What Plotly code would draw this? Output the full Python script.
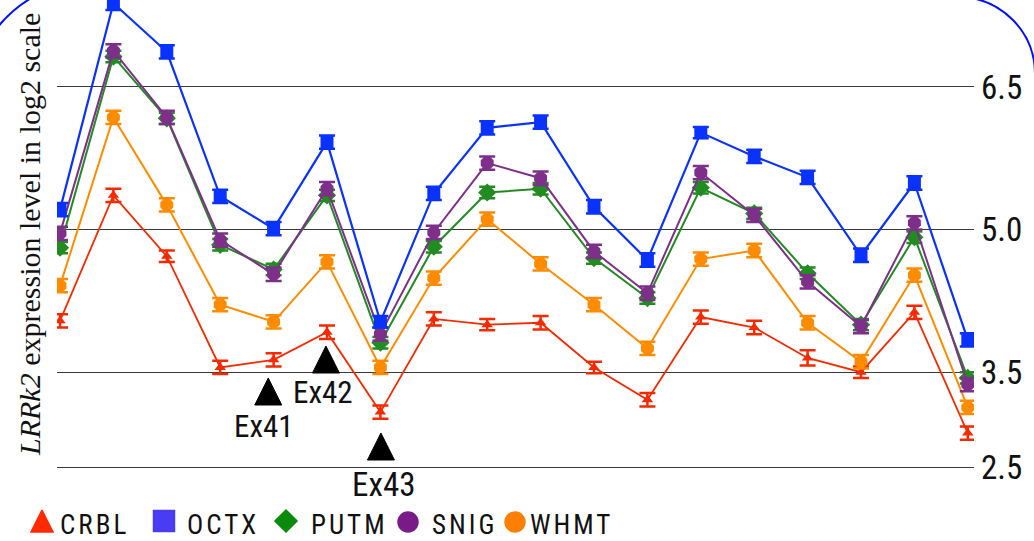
import plotly.graph_objects as go

# ---- data: LRRK2 probe-level expression (log2) by brain region ----
probe_idx = [0, 1, 2, 3, 4, 5, 6, 7, 8, 9, 10, 11, 12, 13, 14, 15, 16, 17]

crbl = [4.04, 5.36, 4.72, 3.55, 3.63, 3.92, 3.08, 4.06, 4.00, 4.02, 3.55, 3.21, 4.08, 3.97, 3.65, 3.50, 4.13, 2.86]
octx = [5.21, 7.38, 6.87, 5.35, 5.01, 5.92, 4.03, 5.38, 6.07, 6.13, 5.24, 4.68, 6.02, 5.77, 5.55, 4.73, 5.49, 3.84]
putm = [4.81, 6.82, 6.17, 4.84, 4.58, 5.36, 3.81, 4.82, 5.39, 5.43, 4.70, 4.28, 5.44, 5.17, 4.54, 4.00, 4.92, 3.44]
snig = [4.96, 6.88, 6.18, 4.89, 4.53, 5.43, 3.90, 4.97, 5.70, 5.54, 4.77, 4.33, 5.60, 5.15, 4.45, 3.98, 5.07, 3.37]
whmt = [4.41, 6.18, 5.26, 4.21, 4.03, 4.66, 3.55, 4.49, 5.11, 4.64, 4.21, 3.75, 4.69, 4.78, 4.02, 3.61, 4.52, 3.13]

err_crbl = [0.07, 0.07, 0.06, 0.07, 0.07, 0.07, 0.07, 0.07, 0.06, 0.07, 0.06, 0.07, 0.07, 0.07, 0.08, 0.06, 0.07, 0.07]
err_octx = [0.07, 0.07, 0.07, 0.07, 0.07, 0.07, 0.06, 0.07, 0.07, 0.07, 0.07, 0.07, 0.06, 0.07, 0.07, 0.07, 0.07, 0.07]
err_putm = [0.06, 0.06, 0.06, 0.06, 0.06, 0.06, 0.06, 0.06, 0.06, 0.06, 0.06, 0.06, 0.06, 0.06, 0.06, 0.06, 0.06, 0.06]
err_snig = [0.07, 0.07, 0.07, 0.07, 0.07, 0.07, 0.07, 0.07, 0.07, 0.07, 0.07, 0.07, 0.07, 0.07, 0.07, 0.07, 0.07, 0.07]
err_whmt = [0.07, 0.07, 0.07, 0.07, 0.07, 0.07, 0.07, 0.07, 0.07, 0.07, 0.07, 0.07, 0.07, 0.07, 0.07, 0.07, 0.07, 0.07]

y_ticks = [2.5, 3.5, 5.0, 6.5]
y_tick_text = ["2.5", "3.5", "5.0", "6.5"]

exon_names = ["Ex41", "Ex42", "Ex43"]
exon_pos = [3.9, 4.98, 6.01]

legend_names = ["CRBL", "OCTX", "PUTM", "SNIG", "WHMT"]

# ---- layout constants (pixels) ----
W, H = 1034, 541
PLOT_L, PLOT_R = 57, 974
X0_PX, DX_PX = 60.0, 53.4          # pixel of first probe, spacing between probes
Y_REF_V, Y_REF_PX, PX_PER_UNIT = 4.375, 289.0, 95.07


def v_at(px_y):
    return Y_REF_V + (Y_REF_PX - px_y) / PX_PER_UNIT


def idx_at(px_x):
    return (px_x - X0_PX) / DX_PX


NARROW = "Liberation Sans Narrow, Arial Narrow, Roboto Condensed, Liberation Sans, sans-serif"
SERIF = "Liberation Serif, Times New Roman, serif"

style = {
    "CRBL": dict(line="#f52a00", marker="#f52a00", symbol="triangle-up", size=10, lw=1.8),
    "OCTX": dict(line="#0a32ff", marker="#0a32ff", symbol="square", size=13, lw=2.2),
    "PUTM": dict(line="#228b22", marker="#228b22", symbol="diamond", size=14, lw=2.0),
    "SNIG": dict(line="#7d2f8a", marker="#7d2f8a", symbol="octagon", size=14, lw=2.0),
    "WHMT": dict(line="#ff8c00", marker="#ff8c00", symbol="octagon", size=14, lw=2.0),
}
legend_style = {
    "CRBL": dict(color="#ff2a00", symbol="arrow-up", size=22, cx=42, cy=510, tx=58),
    "OCTX": dict(color="#4a3cf0", symbol="square", size=21, cx=164, cy=521, tx=185),
    "PUTM": dict(color="#0a8a0a", symbol="diamond", size=17, cx=286, cy=521, tx=309),
    "SNIG": dict(color="#7a1a88", symbol="circle", size=20, cx=408, cy=522, tx=430),
    "WHMT": dict(color="#ff7f00", symbol="circle", size=20, cx=515, cy=522, tx=528),
}

series = {"CRBL": (crbl, err_crbl), "OCTX": (octx, err_octx), "PUTM": (putm, err_putm),
          "SNIG": (snig, err_snig), "WHMT": (whmt, err_whmt)}
draw_order = ["CRBL", "WHMT", "PUTM", "SNIG", "OCTX"]

fig = go.Figure()

for name in draw_order:
    vals, errs = series[name]
    st = style[name]
    fig.add_trace(go.Scatter(
        x=probe_idx, y=vals, mode="lines+markers", name=name, showlegend=False,
        line=dict(color=st["line"], width=st["lw"]),
        marker=dict(color=st["marker"], symbol=st["symbol"], size=st["size"]),
        error_y=dict(type="data", array=errs, visible=True, color=st["marker"],
                     thickness=2.5, width=8),
        xaxis="x", yaxis="y",
    ))

# exon markers (black triangles pointing at the probes)
exon_apex_px = [378, 346, 433]
exon_label_px = [(264, 426), (323, 392), (383, 484)]
fig.add_trace(go.Scatter(
    x=exon_pos, y=[v_at(p) for p in exon_apex_px], mode="markers", showlegend=False,
    marker=dict(symbol="arrow-up", size=27, color="black", line=dict(width=1, color="black")),
    xaxis="x", yaxis="y", hoverinfo="skip",
))
for name, (lx, ly) in zip(exon_names, exon_label_px):
    fig.add_annotation(
        x=idx_at(lx), y=v_at(ly), xref="x", yref="y", text=name, showarrow=False,
        font=dict(family=NARROW, size=31 if name != "Ex43" else 33, color="#111"),
        xanchor="center", yanchor="middle",
    )

# legend row drawn on an overlay axis measured in pixels
for name in legend_names:
    ls = legend_style[name]
    fig.add_trace(go.Scatter(
        x=[ls["cx"]], y=[ls["cy"]], mode="markers", showlegend=False, hoverinfo="skip",
        marker=dict(symbol=ls["symbol"], size=ls["size"], color=ls["color"],
                    line=dict(width=1.5, color=ls["color"])),
        xaxis="x2", yaxis="y2", cliponaxis=False,
    ))
    fig.add_annotation(
        x=ls["tx"], y=525, xref="x2", yref="y2", showarrow=False,
        text=f'<span style="letter-spacing:3px">{name}</span>',
        font=dict(family=NARROW, size=27, color="#111"),
        xanchor="left", yanchor="middle",
    )

# y-axis title
fig.add_annotation(
    x=30 / W, y=1 - 235 / H, xref="paper", yref="paper", showarrow=False,
    text="<i>LRRk2</i> expression level in log2 scale", textangle=-90,
    font=dict(family=SERIF, size=30, color="#111"), xanchor="center", yanchor="middle",
)

# blue outline fragments at the top corners
def px_path(cmds):
    out = []
    for c in cmds:
        if isinstance(c, str):
            out.append(c)
        else:
            out.append(f"{c[0] / W:.5f},{1 - c[1] / H:.5f}")
    return " ".join(out)

fig.add_shape(type="path", xref="paper", yref="paper",
              path=px_path(["M", (-3, 28), "Q", (12, 9), (33, -3)]),
              line=dict(color="#0010ff", width=2))
fig.add_shape(type="path", xref="paper", yref="paper",
              path=px_path(["M", (940, -3), "L", (958, -3), "C", (1000.5, -3), (1035, 31.5), (1035, 74)]),
              line=dict(color="#0010ff", width=2))

fig.update_layout(
    width=W, height=H, margin=dict(l=0, r=0, t=0, b=0),
    paper_bgcolor="white", plot_bgcolor="rgba(0,0,0,0)",
    xaxis=dict(domain=[PLOT_L / W, PLOT_R / W], range=[idx_at(PLOT_L), idx_at(PLOT_R)],
               showgrid=False, zeroline=False, showline=False, showticklabels=False, ticks=""),
    yaxis=dict(domain=[0, 1], range=[v_at(H), v_at(0)], side="right",
               tickvals=y_ticks, ticktext=y_tick_text, showgrid=True, gridcolor="#3a3a3a",
               gridwidth=1.4, zeroline=False, showline=False, ticks="", ticklabelstandoff=6,
               tickfont=dict(family=NARROW, size=33, color="#111")),
    xaxis2=dict(domain=[0, 1], range=[0, W], anchor="y2", visible=False),
    yaxis2=dict(domain=[0, 1], range=[H, 0], anchor="x2", visible=False),
    showlegend=False,
)

fig.write_html("out.html")
